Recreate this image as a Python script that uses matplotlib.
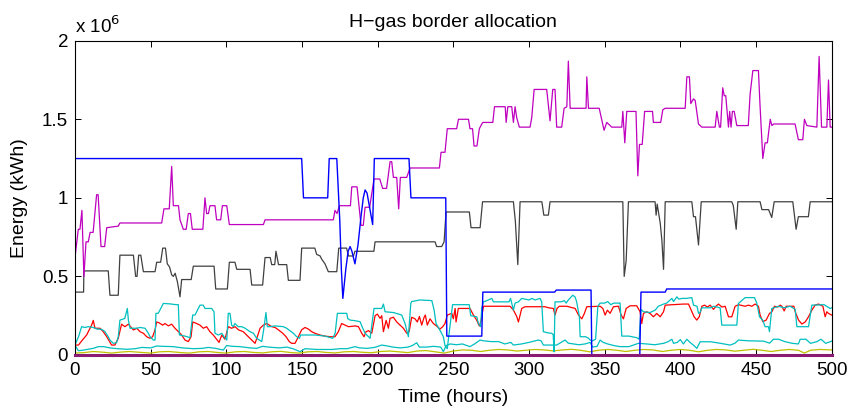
import numpy as np
import matplotlib
matplotlib.use("Agg")
import matplotlib.pyplot as plt

# values in units of 1e6 kWh
blue_t = [0, 149.8, 151, 167, 168, 173, 175, 176, 177, 179, 180.5, 181.8, 183, 185, 187, 189, 190.5,
          191.7, 193, 196.7, 197.8, 220.7, 222, 245, 245.7, 268.8, 269.5, 317, 318, 341, 341.5,
          373.2, 374, 390, 391, 500]
blue_v = [1.25, 1.25, 1.0, 1.0, 1.25, 1.25, 0.85, 0.55, 0.36, 0.55, 0.66, 0.69, 0.66, 0.58, 0.70,
          0.88, 1.0, 1.05, 1.03, 0.83, 1.25, 1.25, 1.0, 1.0, 0.12, 0.12, 0.40, 0.40, 0.413, 0.413, 0.0,
          0.0, 0.40, 0.40, 0.42, 0.42]

magenta_t = [0, 2.2, 3.3, 4.6, 5.9, 7.3, 8.8, 10, 12, 14.3, 15.3, 17.2, 19.6, 21, 28.6, 29.7, 57.3,
             58.8, 62.3, 63.9, 65, 68.4, 69.4, 71.6, 73.5, 74.9, 76.3, 77.5, 84.5, 85.9, 87, 88.2,
             89.2, 92.5, 93.6, 96.3, 97.4, 100.3, 102, 124.5, 125.6, 170.7, 171.8, 173.2, 174.7,
             182, 182.9, 186.4, 189, 190.5, 191.7, 194.7, 197.6, 201.4, 203.3, 205.9, 208.2, 209.3,
             210.4, 212.6, 213.9, 215, 219.2, 221.4, 240.8, 241.9, 244.5, 246, 252.2, 253.4, 260,
             261, 262.7, 263.7, 265.6, 267.2, 268.8, 269.5, 276.1, 277.2, 284.3, 284.9, 286, 288.6,
             289.7, 290.8, 291.9, 293.6, 300.7, 301.8, 303.4, 311.7, 313.9, 315.7, 317.2, 318.3,
             321.6, 323.2, 325, 326, 327.2, 337.7, 338.2, 339.3, 346.4, 349.6, 351.4, 352.5, 354.7,
             361.3, 362, 363.3, 364.6, 370.7, 371.9, 373, 374.8, 376.4, 381.6, 382.2, 387, 388.4,
             389.9, 403.2, 404.3, 406, 406.9, 408.7, 409.8, 412, 414.2, 423, 424.1, 425.8, 426.6,
             428, 429, 430, 431.8, 432.6, 433.5, 434.4, 435.6, 437.3, 444.9, 446.1, 447.9, 451.6,
             452.7, 454.5, 456, 457.5, 459.4, 460.5, 461.6, 475.8, 478, 480.9, 482, 483.6, 490.2,
             491.7, 493.3, 496.8, 497.9, 499, 500]
magenta_v = [0.62, 0.80, 0.80, 0.92, 0.50, 0.72, 0.72, 0.78, 0.78, 1.02, 1.02, 0.69, 0.69, 0.81, 0.82,
             0.84, 0.84, 0.93, 0.93, 1.20, 0.95, 0.95, 0.86, 0.80, 0.80, 0.90, 0.90, 0.80, 0.80, 1.0,
             0.90, 0.90, 0.95, 0.95, 0.86, 0.86, 0.95, 0.95, 0.83, 0.83, 0.86, 0.86, 0.92, 0.90, 0.95,
             0.95, 1.07, 1.07, 0.825, 0.825, 0.94, 0.94, 1.12, 1.12, 1.06, 1.06, 1.23, 1.23, 1.13,
             1.13, 0.93, 1.13, 1.13, 1.19, 1.19, 1.29, 1.29, 1.44, 1.44, 1.50, 1.50, 1.44, 1.44, 1.33,
             1.33, 1.44, 1.47, 1.48, 1.48, 1.58, 1.58, 1.48, 1.58, 1.58, 1.48, 1.58, 1.51, 1.45, 1.45,
             1.51, 1.69, 1.69, 1.49, 1.69, 1.69, 1.45, 1.45, 1.57, 1.58, 1.87, 1.57, 1.57, 1.77, 1.57,
             1.57, 1.43, 1.48, 1.47, 1.45, 1.45, 1.55, 1.35, 1.55, 1.55, 1.14, 1.34, 1.34, 1.55, 1.55,
             1.48, 1.48, 1.56, 1.57, 1.57, 1.77, 1.77, 1.60, 1.63, 1.62, 1.47, 1.45, 1.45, 1.55, 1.45,
             1.45, 1.70, 1.65, 1.65, 1.45, 1.55, 1.45, 1.55, 1.55, 1.46, 1.46, 1.66, 1.81, 1.81, 1.58,
             1.25, 1.35, 1.35, 1.50, 1.46, 1.47, 1.47, 1.37, 1.37, 1.50, 1.46, 1.45, 1.90, 1.45, 1.45,
             1.75, 1.45, 1.45]

gray_t = [0, 5.7, 5.9, 22, 23.1, 28.6, 29.7, 38.6, 40.1, 41, 42.1, 43.5, 45.2, 52.9, 54, 56.6, 58,
          59.8, 61, 62.5, 63.9, 65, 66.2, 67.7, 69.4, 70.5, 76.8, 78.2, 91.9, 93, 100.7, 102, 105.7,
          106.9, 115.7, 116.8, 124, 125.6, 129, 130, 132, 132.8, 134.5, 139.9, 141, 148.7, 149.8,
          158.5, 159.7, 162, 163, 165.2, 167.4, 173, 174.3, 179.5, 180.7, 184, 185, 197.5, 198.3,
          237.9, 239, 242.3, 243.9, 245.2, 260.6, 261.7, 267.7, 269.3, 289.7, 291, 292.6, 294.1,
          308.5, 309.8, 312.8, 313.9, 362, 362.9, 364.2, 365.7, 383.3, 384, 384.7, 386.7, 387.8,
          388.9, 390, 407.6, 408.7, 410, 412, 413.8, 434, 435, 436.9, 438, 452.7, 453.9, 458.3,
          460.4, 462, 474.3, 475.5, 476.5, 478, 484.6, 485.8, 500]
gray_v = [0.40, 0.40, 0.535, 0.535, 0.38, 0.38, 0.635, 0.635, 0.50, 0.50, 0.635, 0.635, 0.53, 0.53,
          0.59, 0.59, 0.68, 0.68, 0.58, 0.56, 0.51, 0.50, 0.52, 0.465, 0.37, 0.48, 0.48, 0.565,
          0.565, 0.42, 0.42, 0.59, 0.59, 0.545, 0.545, 0.445, 0.445, 0.62, 0.62, 0.575, 0.575, 0.66,
          0.575, 0.575, 0.475, 0.475, 0.68, 0.68, 0.64, 0.63, 0.61, 0.58, 0.53, 0.53, 0.68, 0.68,
          0.63, 0.63, 0.66, 0.66, 0.72, 0.72, 0.69, 0.69, 0.72, 0.91, 0.91, 0.81, 0.81, 0.975,
          0.975, 0.85, 0.575, 0.975, 0.975, 0.89, 0.89, 0.975, 0.975, 0.50, 0.60, 0.975, 0.975,
          0.89, 0.96, 0.84, 0.73, 0.545, 0.975, 0.975, 0.88, 0.88, 0.70, 0.975, 0.975, 0.95, 0.80,
          0.975, 0.975, 0.925, 0.925, 0.875, 0.975, 0.975, 0.88, 0.80, 0.88, 0.88, 0.975, 0.975]

red_t = [0, 2.3, 4.5, 7.7, 11, 12.1, 13.2, 16.5, 18.7, 21, 24.2, 26.4, 28.6, 30.8, 33, 35.3, 38.6,
         40.8, 43, 45.2, 47.4, 49.6, 51.3, 52.9, 54, 55.5, 57.9, 59.5, 61.7, 63.9, 66.1, 68.3, 70.5,
         72.7, 74.9, 76.7, 77.8, 80.4, 82.6, 84.8, 87, 89.2, 91.4, 93.6, 95.2, 97, 99.1, 101.3,
         103.5, 105.8, 108, 111.2, 113.4, 115.7, 117.8, 119, 120.5, 122.3, 124.5, 126.7, 130,
         132.2, 134.4, 137.3, 139.5, 141.6, 143.2, 145.4, 147.6, 149.8, 152, 154.2, 156.4, 158.6,
         161.9, 165.2, 168.5, 171.8, 174, 176.2, 178.5, 180.7, 182.9, 185.1, 187.3, 189.5, 191,
         192.3, 194, 196.1, 198.3, 199.8, 201.6, 202.7, 203.8, 205.6, 207.1, 208.2, 210.4, 212.6,
         214.8, 217, 219.2, 220.8, 222.5, 224.7, 226.2, 227.6, 229.1, 230.7, 231.5, 232.8, 234.6,
         236.8, 239, 241.2, 243, 244.5, 246, 249, 250, 251.2, 251.8, 253.3, 261, 263.3, 265.5,
         267.2, 268.4, 269.9, 287.5, 289.7, 290.8, 291.9, 293, 294.1, 295.2, 297.4, 310.6, 313,
         316.1, 317.2, 318.5, 320, 325, 330.5, 332.7, 334.9, 336.4, 338.2, 347, 348.8, 350.3,
         351.8, 353.6, 355.8, 359.1, 360.9, 362.4, 364.2, 366.8, 371.2, 373.4, 374.5, 375.6,
         377.8, 380, 382.2, 384.4, 386.7, 388.9, 390, 402, 405.4, 407.6, 409.1, 410.9, 412.5,
         414.2, 416, 417.9, 419.7, 421.9, 423.5, 425.2, 427.5, 429.6, 431.8, 434, 436.2, 438.4,
         442.8, 445, 447.2, 449.4, 451.6, 452.7, 454.5, 456.7, 458.9, 460.5, 462.2, 464.4, 466,
         467.1, 468.6, 469.9, 475, 475.9, 478.1, 480.3, 482.5, 484.7, 486.9, 489, 491.3, 494.2,
         495.7, 496.8, 497.9, 500]
red_v = [0.063, 0.063, 0.09, 0.127, 0.19, 0.22, 0.17, 0.17, 0.148, 0.116, 0.063, 0.063, 0.106, 0.196,
         0.18, 0.196, 0.159, 0.17, 0.148, 0.138, 0.116, 0.106, 0.116, 0.16, 0.21, 0.205, 0.19, 0.2,
         0.185, 0.196, 0.17, 0.148, 0.127, 0.095, 0.085, 0.116, 0.21, 0.2, 0.19, 0.17, 0.18, 0.148,
         0.127, 0.1, 0.08, 0.127, 0.1, 0.18, 0.17, 0.18, 0.16, 0.148, 0.127, 0.106, 0.085, 0.074,
         0.116, 0.17, 0.19, 0.2, 0.18, 0.175, 0.16, 0.138, 0.116, 0.085, 0.074, 0.074, 0.116, 0.16,
         0.175, 0.165, 0.148, 0.138, 0.127, 0.12, 0.116, 0.116, 0.148, 0.2, 0.19, 0.18, 0.182,
         0.185, 0.18, 0.138, 0.116, 0.148, 0.155, 0.138, 0.25, 0.26, 0.233, 0.25, 0.148, 0.22,
         0.17, 0.233, 0.24, 0.21, 0.19, 0.17, 0.138, 0.148, 0.24, 0.23, 0.21, 0.245, 0.19, 0.24,
         0.254, 0.19, 0.23, 0.2, 0.184, 0.165, 0.18, 0.2, 0.254, 0.265, 0.23, 0.296, 0.21, 0.296,
         0.296, 0.254, 0.22, 0.184, 0.22, 0.31, 0.31, 0.286, 0.265, 0.245, 0.21, 0.254, 0.296,
         0.307, 0.307, 0.30, 0.296, 0.254, 0.296, 0.31, 0.31, 0.296, 0.254, 0.23, 0.26, 0.307,
         0.31, 0.296, 0.254, 0.285, 0.265, 0.307, 0.31, 0.254, 0.23, 0.296, 0.313, 0.313, 0.275,
         0.2, 0.264, 0.275, 0.264, 0.243, 0.264, 0.243, 0.275, 0.317, 0.324, 0.324, 0.275, 0.243,
         0.222, 0.243, 0.31, 0.317, 0.305, 0.317, 0.29, 0.31, 0.324, 0.305, 0.31, 0.243, 0.243,
         0.31, 0.32, 0.31, 0.317, 0.31, 0.324, 0.31, 0.254, 0.212, 0.222, 0.264, 0.275, 0.31,
         0.305, 0.317, 0.31, 0.28, 0.31, 0.31, 0.275, 0.222, 0.197, 0.21, 0.243, 0.285, 0.317,
         0.324, 0.31, 0.243, 0.275, 0.264, 0.254]

cyan_hi_t = [0, 2.5, 4.4, 6.5, 8.8, 12.1, 14.5, 17.6, 19.7, 22, 23.1, 25.3, 27.5, 28.6, 29.7, 32.9,
             34.6, 35.3, 36.4, 40.8, 43, 46.3, 48.5, 49.6, 51.8, 52.9, 53.5, 55, 58.4, 62.8, 66.8,
             68.3, 69, 72.7, 76, 77.8, 79.3, 82.6, 84.8, 85.9, 90.3, 91.9, 92.5, 94.7, 97, 98.5,
             100.3, 101.3, 102.4, 103.5, 104.6, 105.7, 107.9, 110.2, 112.4, 115.7, 117.9, 120.1,
             123.4, 124.5, 126.2, 127.1, 128.8, 132.2, 137.7, 139.9, 144.3, 146.5, 148.3, 149.2,
             152, 158.6, 165.2, 170.3, 171.9, 173.4, 179.6, 180.2, 181.8, 185, 188.4, 189.5, 191.7,
             193.9, 195, 197.6, 202.7, 203.8, 204.9, 210.4, 215.9, 218.1, 220.3, 221.9, 222.5, 228,
             235.8, 237.3, 238.6, 241.7, 243.4, 244.5, 246, 248, 249.5, 260.5, 261.5, 265.5, 266.6,
             268, 268.8, 269.9, 272, 275.4, 276.5, 286.8, 287.8, 288.6, 289.7, 290.8, 293, 295.2,
             300, 302, 304, 307.3, 308.4, 309.5, 312.8, 315, 316, 316.6, 317.2, 321, 323.4, 324.6,
             326, 328.9, 330.4, 331.5, 333.3, 333.8, 337.5, 339.3, 340.4, 342, 344, 345.5, 347, 350,
             352, 354, 356, 360.2, 361.3, 366, 371.2, 372.8, 374, 375.6, 380, 383.3, 385.5, 388.9,
             391, 394.4, 395.5, 397.7, 399, 401, 404, 407.6, 408.7, 411, 412, 413, 414.2, 420, 422,
             426.3, 427.4, 437.3, 438.4, 442.8, 449, 450.5, 452.3, 454.5, 456, 458.2, 458.9, 460.4,
             465, 468.5, 472.6, 475.9, 477, 484.7, 486.9, 495, 499, 500]
cyan_hi_v = [0.063, 0.12, 0.18, 0.175, 0.18, 0.175, 0.165, 0.163, 0.15, 0.116, 0.095, 0.074, 0.078,
             0.116, 0.222, 0.232, 0.296, 0.222, 0.17, 0.17, 0.175, 0.17, 0.138, 0.116, 0.095, 0.095,
             0.265, 0.265, 0.328, 0.325, 0.32, 0.32, 0.127, 0.12, 0.11, 0.254, 0.254, 0.317, 0.317,
             0.296, 0.296, 0.275, 0.138, 0.127, 0.138, 0.116, 0.095, 0.265, 0.265, 0.19, 0.18, 0.2,
             0.18, 0.18, 0.17, 0.148, 0.138, 0.106, 0.085, 0.148, 0.27, 0.18, 0.18, 0.185, 0.18,
             0.17, 0.138, 0.116, 0.106, 0.127, 0.127, 0.127, 0.12, 0.106, 0.138, 0.265, 0.265, 0.232,
             0.222, 0.218, 0.212, 0.185, 0.138, 0.116, 0.106, 0.296, 0.296, 0.324, 0.275, 0.27,
             0.254, 0.2, 0.116, 0.328, 0.34, 0.35, 0.346, 0.286, 0.2, 0.148, 0.116, 0.06, 0.04, 0.2,
             0.32, 0.32, 0.25, 0.243, 0.2, 0.18, 0.3, 0.338, 0.345, 0.36, 0.338, 0.338, 0.36, 0.328,
             0.286, 0.33, 0.338, 0.36, 0.35, 0.36, 0.35, 0.36, 0.338, 0.148, 0.14, 0.138, 0.13, 0.02,
             0.338, 0.338, 0.345, 0.33, 0.35, 0.38, 0.37, 0.338, 0.243, 0.116, 0.116, 0.106, 0.095,
             0.09, 0.1, 0.31, 0.33, 0.33, 0.34, 0.32, 0.33, 0.33, 0.12, 0.12, 0.11, 0.1, 0.29, 0.275,
             0.27, 0.285, 0.31, 0.324, 0.33, 0.36, 0.34, 0.37, 0.355, 0.36, 0.36, 0.365, 0.317, 0.31,
             0.265, 0.27, 0.30, 0.30, 0.31, 0.30, 0.19, 0.19, 0.328, 0.365, 0.365, 0.33, 0.243, 0.22,
             0.18, 0.18, 0.148, 0.296, 0.31, 0.30, 0.31, 0.29, 0.18, 0.18, 0.317, 0.32, 0.296, 0.30]

cyan_lo_t = [0, 2.2, 5, 8, 12.1, 15.4, 19, 23, 28, 34.2, 40, 44.1, 50, 54, 58, 65, 71, 78.2, 84, 88.1,
             93, 98, 100.2, 104, 109, 115.7, 120, 124, 128, 135, 140, 144, 148.7, 152, 160, 170,
             175, 180, 185, 188, 193, 198, 202.7, 206, 210, 215, 220, 223, 225.8, 227.5, 232, 237,
             241.7, 243.4, 245.3, 248, 252, 256, 261, 264, 267.7, 270, 275, 280, 284, 288, 289.7,
             295, 300, 306.2, 308, 309.5, 315, 318.3, 323.8, 326, 333, 337, 340.4, 342, 345, 347,
             349, 352, 356, 360, 366, 372.3, 377.8, 383, 389, 392, 394.4, 395.5, 398, 400, 402,
             404.3, 407, 409, 410.9, 413.1, 420, 426, 432.9, 436, 438.4, 445, 455, 459, 461.5, 465,
             469, 474, 478, 479.2, 483, 486, 490, 493, 496, 499, 500]
cyan_lo_v = [0.063, 0.027, 0.03, 0.035, 0.042, 0.053, 0.053, 0.045, 0.04, 0.036, 0.04, 0.048, 0.045,
             0.057, 0.055, 0.053, 0.045, 0.04, 0.042, 0.048, 0.042, 0.031, 0.06, 0.055, 0.053, 0.045,
             0.042, 0.055, 0.05, 0.045, 0.05, 0.04, 0.021, 0.04, 0.035, 0.035, 0.04, 0.04, 0.053,
             0.045, 0.042, 0.048, 0.063, 0.058, 0.05, 0.045, 0.05, 0.06, 0.078, 0.05, 0.05, 0.055,
             0.05, 0.021, 0.06, 0.07, 0.065, 0.07, 0.053, 0.07, 0.095, 0.09, 0.085, 0.085, 0.07, 0.08,
             0.063, 0.07, 0.08, 0.095, 0.09, 0.063, 0.063, 0.063, 0.095, 0.075, 0.065, 0.07, 0.08,
             0.05, 0.055, 0.095, 0.08, 0.07, 0.06, 0.053, 0.053, 0.074, 0.07, 0.065, 0.074, 0.085,
             0.1, 0.074, 0.08, 0.098, 0.07, 0.1, 0.075, 0.06, 0.042, 0.084, 0.084, 0.075, 0.063,
             0.074, 0.095, 0.09, 0.088, 0.075, 0.1, 0.1, 0.085, 0.074, 0.07, 0.1, 0.1, 0.074, 0.084,
             0.1, 0.074, 0.084, 0.088]

yellow_t = [0, 6, 12, 18, 24, 30, 36, 44, 50, 56, 62, 70, 76, 82, 88, 95, 100, 106, 112, 118, 124,
            130, 136, 142, 148, 154, 160, 166, 172, 178, 184, 190, 196, 202, 208, 214, 220, 226, 232,
            238, 244, 250, 256, 262, 268, 274, 280, 286, 292, 298, 304, 310, 316, 322, 328, 334, 340,
            346, 352, 358, 364, 370, 376, 382, 388, 394, 400, 406, 412, 418, 424, 430, 436, 442, 448,
            454, 460, 466, 472, 478, 482, 486, 492, 500]
yellow_v = [0.012, 0.015, 0.022, 0.018, 0.012, 0.018, 0.022, 0.016, 0.012, 0.02, 0.022, 0.015, 0.012,
            0.02, 0.022, 0.015, 0.012, 0.02, 0.022, 0.016, 0.013, 0.02, 0.023, 0.016, 0.012, 0.02,
            0.022, 0.016, 0.013, 0.02, 0.022, 0.017, 0.014, 0.022, 0.025, 0.02, 0.015, 0.025, 0.028,
            0.02, 0.012, 0.025, 0.032, 0.03, 0.022, 0.03, 0.035, 0.032, 0.025, 0.03, 0.035, 0.032,
            0.026, 0.032, 0.036, 0.03, 0.02, 0.03, 0.035, 0.03, 0.022, 0.03, 0.035, 0.032, 0.022,
            0.03, 0.035, 0.03, 0.02, 0.03, 0.035, 0.032, 0.024, 0.03, 0.036, 0.03, 0.022, 0.03,
            0.035, 0.03, 0.012, 0.03, 0.035, 0.032]

zero_t = [0, 500]
zero_v = [0, 0]

plt.rcParams['font.family'] = ['Liberation Sans', 'DejaVu Sans']

fig = plt.figure(figsize=(8.49, 4.08), dpi=100)
ax = fig.add_axes([0.0883, 0.13, 0.8913, 0.7702])

lw = 0.9
ax.plot(yellow_t, yellow_v, color='#BFBF00', lw=lw)
ax.plot(cyan_lo_t, cyan_lo_v, color='#00BFBF', lw=lw)
ax.plot(red_t, red_v, color='#FF0000', lw=lw)
ax.plot(cyan_hi_t, cyan_hi_v, color='#00BFBF', lw=lw)
ax.plot(gray_t, gray_v, color='#404040', lw=lw)
ax.plot(magenta_t, magenta_v, color='#BF00BF', lw=lw)
ax.plot(blue_t, blue_v, color='#0000FF', lw=1.0)
ax.plot(zero_t, zero_v, color='#8B1A73', lw=2.2, clip_on=False, zorder=5)

ax.set_xlim(0, 500)
ax.set_ylim(0, 2)
ax.set_xticks(np.arange(0, 501, 50))
ax.set_yticks([0, 0.5, 1, 1.5, 2])
ax.set_yticklabels(['0', '0.5', '1', '1.5', '2'])
ax.tick_params(direction='in', top=True, right=True, length=4.5, width=0.7, labelsize=13.5,
               pad=5)
for s in ax.spines.values():
    s.set_linewidth(0.8)

ax.set_title('H\u2212gas border allocation', fontsize=14, pad=10)
ax.set_xlabel('Time (hours)', fontsize=14, labelpad=7)
ax.set_ylabel('Energy (kWh)', fontsize=14, labelpad=10)
ax.text(0.0, 1.012, r'x 10$^{6}$', transform=ax.transAxes, fontsize=13.5, ha='left', va='bottom')

fig.savefig('out.png', dpi=100)
